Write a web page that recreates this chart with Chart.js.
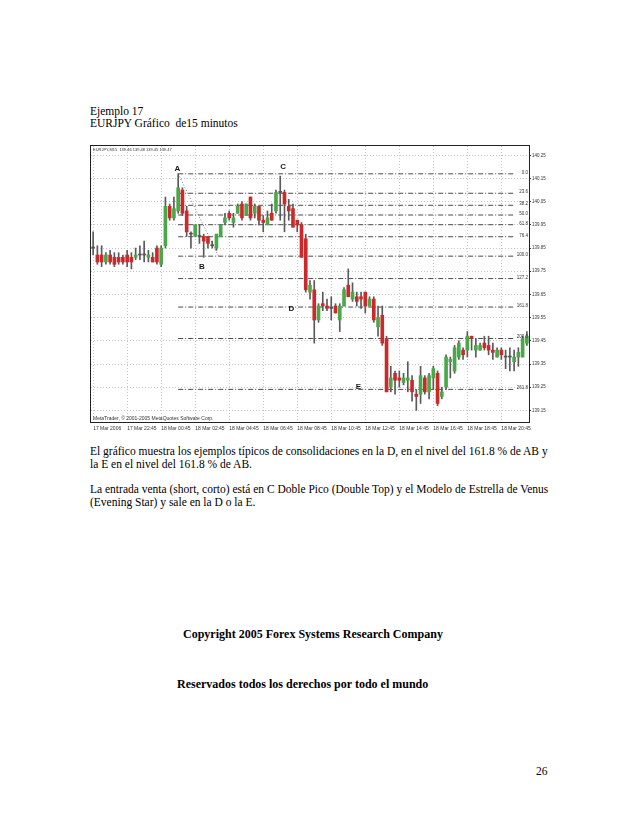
<!DOCTYPE html>
<html>
<head>
<meta charset="utf-8">
<script src="https://cdn.jsdelivr.net/npm/chart.js@4.4.0/dist/chart.umd.min.js"></script>
<style>
body { margin: 0; background: #fff; width: 638px; height: 826px; position: relative; overflow: hidden;
       font-family: "Liberation Serif", "Times New Roman", serif; color: #000; }
.t { position: absolute; left: 90px; font-size: 11.5px; line-height: 12.6px; white-space: nowrap; }
.j { position: absolute; left: 90px; width: 455px; font-size: 11.5px; line-height: 12.6px;
     text-align: justify; text-align-last: justify; white-space: nowrap; }
.b { position: absolute; font-size: 12px; font-weight: bold; white-space: nowrap; }
#wrap { position: absolute; left: 86px; top: 142px; width: 462px; height: 298px; }
</style>
</head>
<body>
<div class="t" style="top:104.8px">Ejemplo 17</div>
<div class="t" style="top:117.1px">EURJPY Gráfico&nbsp; de15 minutos</div>

<div id="wrap"><canvas id="fxChart" width="462" height="298"></canvas></div>

<div class="j" style="top:444.8px">El gráfico muestra los ejemplos típicos de consolidaciones en la D, en el nivel del 161.8 % de AB y</div>
<div class="t" style="top:457.5px">la E en el nivel del 161.8 % de AB.</div>
<div class="j" style="top:483.1px">La entrada venta (short, corto) está en C Doble Pico (Double Top) y el Modelo de Estrella de Venus</div>
<div class="t" style="top:495.5px">(Evening Star) y sale en la D o la E.</div>

<div class="b" style="left:183px;top:627px">Copyright 2005 Forex Systems Research Company</div>
<div class="b" style="left:177px;top:677px">Reservados todos los derechos por todo el mundo</div>
<div class="t" style="left:536px;top:765px">26</div>

<script>
// EURJPY M15 candles
const opens = [
  139.85, 139.82, 139.82, 139.79, 139.82, 139.81, 139.81, 139.81, 139.82, 139.81,
  139.81, 139.82, 139.82, 139.81, 139.81, 139.85, 139.78, 139.86, 140.03, 139.98,
  140.01, 140.10, 140.01, 139.91, 139.90, 139.90, 139.90, 139.90, 139.86, 139.85,
  139.90, 139.96, 140.00, 139.96, 140.00, 140.04, 139.99, 140.07, 140.00, 140.03,
  139.97, 139.95, 140.00, 140.01, 140.09, 140.09, 140.03, 140.02, 139.97, 139.95,
  139.89, 139.66, 139.67, 139.54, 139.61, 139.60, 139.59, 139.60, 139.54, 139.60,
  139.69, 139.63, 139.64, 139.64, 139.66, 139.60, 139.63, 139.51, 139.56, 139.46,
  139.25, 139.31, 139.29, 139.27, 139.28, 139.28, 139.22, 139.22, 139.29, 139.23,
  139.29, 139.31, 139.21, 139.25, 139.36, 139.32, 139.38, 139.41, 139.41, 139.47,
  139.41, 139.41, 139.44, 139.43, 139.41, 139.38, 139.41, 139.38, 139.38, 139.36,
  139.38, 139.38, 139.44
];
const highs = [
  139.92, 139.86, 139.86, 139.83, 139.84, 139.83, 139.83, 139.82, 139.84, 139.83,
  139.85, 139.86, 139.88, 139.84, 139.83, 139.86, 139.86, 140.07, 140.04, 140.07,
  140.17, 140.11, 140.03, 139.92, 139.95, 139.95, 139.91, 139.90, 139.88, 139.91,
  139.95, 140.00, 140.01, 140.00, 140.04, 140.05, 140.04, 140.07, 140.04, 140.03,
  139.99, 140.01, 140.04, 140.10, 140.16, 140.10, 140.06, 140.04, 139.97, 139.96,
  139.91, 139.71, 139.71, 139.61, 139.66, 139.63, 139.64, 139.61, 139.61, 139.68,
  139.76, 139.70, 139.66, 139.66, 139.66, 139.64, 139.64, 139.60, 139.60, 139.47,
  139.34, 139.32, 139.32, 139.31, 139.36, 139.30, 139.24, 139.34, 139.30, 139.31,
  139.34, 139.32, 139.25, 139.39, 139.38, 139.43, 139.45, 139.42, 139.49, 139.47,
  139.46, 139.44, 139.47, 139.47, 139.44, 139.42, 139.42, 139.41, 139.42, 139.41,
  139.42, 139.47, 139.49
];
const lows = [
  139.82, 139.78, 139.77, 139.78, 139.78, 139.77, 139.78, 139.78, 139.77, 139.76,
  139.80, 139.80, 139.79, 139.79, 139.79, 139.78, 139.77, 139.85, 139.97, 139.97,
  140.00, 139.99, 139.90, 139.85, 139.90, 139.87, 139.81, 139.85, 139.85, 139.84,
  139.90, 139.95, 139.97, 139.94, 140.00, 139.97, 139.99, 139.97, 139.98, 139.95,
  139.92, 139.95, 139.97, 140.00, 139.97, 139.92, 139.97, 139.94, 139.92, 139.81,
  139.66, 139.63, 139.44, 139.53, 139.58, 139.58, 139.54, 139.57, 139.49, 139.60,
  139.64, 139.62, 139.60, 139.59, 139.57, 139.60, 139.53, 139.47, 139.43, 139.23,
  139.23, 139.22, 139.25, 139.26, 139.23, 139.19, 139.15, 139.18, 139.22, 139.20,
  139.24, 139.17, 139.20, 139.24, 139.29, 139.31, 139.37, 139.37, 139.38, 139.41,
  139.38, 139.41, 139.41, 139.39, 139.37, 139.38, 139.37, 139.33, 139.32, 139.32,
  139.34, 139.38, 139.43
];
const closes = [
  139.85, 139.79, 139.79, 139.82, 139.79, 139.78, 139.79, 139.79, 139.79, 139.79,
  139.82, 139.82, 139.82, 139.82, 139.79, 139.79, 139.85, 140.03, 139.98, 140.02,
  140.11, 140.00, 139.92, 139.91, 139.95, 139.90, 139.88, 139.87, 139.86, 139.91,
  139.95, 139.98, 139.98, 139.98, 140.03, 139.98, 140.04, 139.98, 140.03, 139.97,
  139.96, 139.98, 139.97, 140.09, 140.09, 140.04, 140.01, 139.94, 139.95, 139.81,
  139.67, 139.69, 139.54, 139.60, 139.60, 139.59, 139.59, 139.57, 139.60, 139.67,
  139.64, 139.66, 139.62, 139.63, 139.60, 139.63, 139.54, 139.55, 139.44, 139.23,
  139.29, 139.28, 139.28, 139.29, 139.29, 139.23, 139.21, 139.30, 139.23, 139.30,
  139.33, 139.18, 139.23, 139.38, 139.37, 139.42, 139.44, 139.39, 139.47, 139.46,
  139.43, 139.43, 139.42, 139.41, 139.40, 139.41, 139.39, 139.38, 139.38, 139.38,
  139.40, 139.46, 139.47
];

// time axis labels (one every 8 bars = 2 hours)
const xTickIdx = [0, 8, 16, 24, 32, 40, 48, 56, 64, 72, 80, 88, 96];
const xTickLabels = ['17 Mar 2006', '17 Mar 22:45', '18 Mar 00:45', '18 Mar 02:45', '18 Mar 04:45',
  '18 Mar 06:45', '18 Mar 08:45', '18 Mar 10:45', '18 Mar 12:45', '18 Mar 14:45',
  '18 Mar 16:45', '18 Mar 18:45', '18 Mar 20:45'];
const yTicks = [139.15, 139.25, 139.35, 139.45, 139.55, 139.65, 139.75, 139.85, 139.95, 140.05, 140.15, 140.25];

// fibonacci set drawn from A (high) to B (low)
const fibLevels = [0, 23.6, 38.2, 50, 61.8, 76.4, 100, 127.2, 161.8, 200, 261.8];
const fibHigh = 140.17;
const fibLow = 139.815;
const fibFrom = 20;
const fibTo = 99;
const trendIdx = [20, 29.5];

// letters on the chart
const markNames = ['A', 'B', 'C', 'D', 'E'];
const markIdx = [19.8, 25.6, 44.7, 46.6, 62.4];
const markPrice = [140.19, 139.77, 140.20, 139.59, 139.25];

const UP = '#4aa84a', DOWN = '#cc2a2a', FLAT = '#555';
const candleColors = opens.map((o, i) => closes[i] > o ? UP : (closes[i] < o ? DOWN : FLAT));
const fibPrice = f => fibHigh - f / 100 * (fibHigh - fibLow);

const datasets = [];
datasets.push({
    type: 'bar',
    data: opens.map((o, i) => ({ x: i, y: [o, closes[i]] })),
    backgroundColor: candleColors,
    barThickness: 3,
    minBarLength: 1,
    grouped: false,
    order: 1
});
datasets.push({
    type: 'bar',
    data: highs.map((h, i) => ({ x: i, y: [lows[i], h] })),
    backgroundColor: '#5a5a5a',
    barThickness: 1,
    grouped: false,
    order: 2
});
fibLevels.forEach(f => {
    datasets.push({
        type: 'line',
        data: [{ x: fibFrom, y: fibPrice(f) }, { x: fibTo, y: fibPrice(f) }],
        borderColor: '#4a4a4a',
        borderWidth: 1,
        borderDash: [5, 2, 1, 2],
        pointRadius: 0,
        order: 3
    });
});
datasets.push({
    type: 'line',
    data: [{ x: trendIdx[0], y: fibHigh }, { x: trendIdx[1], y: fibLow }],
    borderColor: '#777',
    borderWidth: 1,
    borderDash: [1, 2],
    pointRadius: 0,
    order: 3
});

// frame, fib level texts, letters and MetaTrader captions
const decor = {
    id: 'decor',
    afterDatasetsDraw(chart) {
        const { ctx, chartArea: a, scales: { x, y } } = chart;
        ctx.save();
        ctx.strokeStyle = '#222';
        ctx.lineWidth = 1;
        ctx.strokeRect(a.left - 0.5, a.top - 0.5, a.right - a.left + 1, a.bottom - a.top + 1);

        ctx.fillStyle = '#333';
        ctx.font = '4.5px "Liberation Sans", Arial, sans-serif';
        ctx.textAlign = 'right';
        ctx.textBaseline = 'bottom';
        fibLevels.forEach(f => {
            ctx.fillText(f.toFixed(1), a.right - 1, y.getPixelForValue(fibPrice(f)) + 1);
        });

        ctx.fillStyle = '#1a1a1a';
        ctx.font = 'bold 8px "Liberation Sans", Arial, sans-serif';
        ctx.textAlign = 'center';
        ctx.textBaseline = 'middle';
        markNames.forEach((m, i) => {
            ctx.fillText(m, x.getPixelForValue(markIdx[i]), y.getPixelForValue(markPrice[i]));
        });

        ctx.fillStyle = '#333';
        ctx.textAlign = 'left';
        ctx.textBaseline = 'top';
        ctx.font = '4px "Liberation Sans", Arial, sans-serif';
        ctx.fillText('EURJPY,M15  139.46 139.48 139.45 139.47', a.left + 2, a.top + 2);
        ctx.textBaseline = 'bottom';
        ctx.font = '5px "Liberation Sans", Arial, sans-serif';
        ctx.fillText('MetaTrader, \u00a9 2001-2005 MetaQuotes Software Corp.', a.left + 2, a.bottom - 1);
        ctx.restore();
    }
};

new Chart(document.getElementById('fxChart'), {
    data: { datasets },
    plugins: [decor],
    options: {
        responsive: false,
        animation: false,
        devicePixelRatio: 1,
        layout: { padding: { left: 5, top: 4, right: 0, bottom: 0 } },
        plugins: { legend: { display: false }, tooltip: { enabled: false } },
        scales: {
            x: {
                type: 'linear',
                min: -0.5,
                max: 102.5,
                offset: false,
                afterBuildTicks: s => { s.ticks = xTickIdx.map(v => ({ value: v })); },
                afterFit: s => { s.height = 18; },
                grid: { offset: false, color: '#c4c4c4', drawTicks: false },
                border: { display: false, dash: [1, 2] },
                ticks: {
                    autoSkip: false, maxRotation: 0, minRotation: 0, align: 'start', padding: 4,
                    color: '#333', font: { size: 5, family: '"Liberation Sans", Arial, sans-serif' },
                    callback: v => xTickLabels[xTickIdx.indexOf(v)]
                }
            },
            y: {
                position: 'right',
                min: 139.10,
                max: 140.29,
                afterBuildTicks: s => { s.ticks = yTicks.map(v => ({ value: v })); },
                afterFit: s => { s.width = 19; },
                grid: { color: '#c4c4c4', tickLength: 2, tickColor: '#333' },
                border: { display: false, dash: [1, 2] },
                ticks: {
                    padding: 1, color: '#333',
                    font: { size: 4.5, family: '"Liberation Sans", Arial, sans-serif' },
                    callback: v => v.toFixed(2)
                }
            }
        }
    }
});
</script>
</body>
</html>
